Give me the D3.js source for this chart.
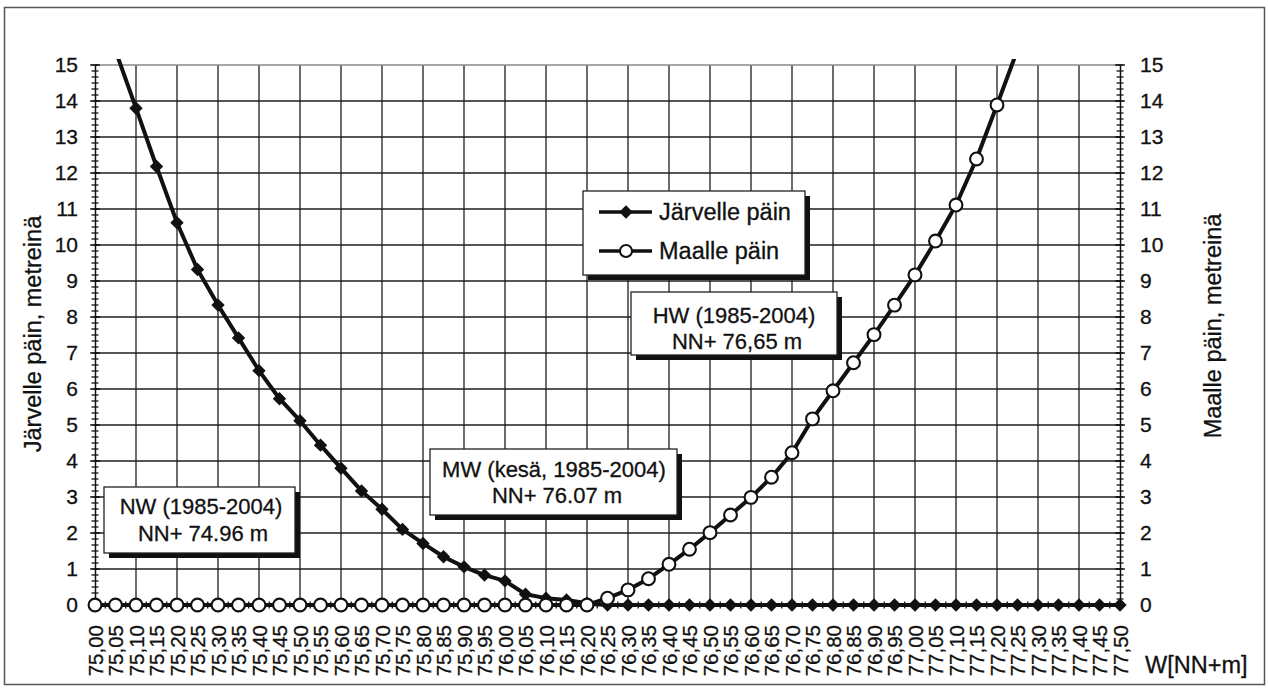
<!DOCTYPE html>
<html>
<head>
<meta charset="utf-8">
<script src="https://cdn.jsdelivr.net/npm/d3@7"></script>
<style>
  body { margin: 0; background: #fff; }
  text { font-family: "Liberation Sans", Arial, sans-serif; fill: #111; stroke: #111; stroke-width: 0.3px; }
</style>
</head>
<body>
<svg id="chart" width="1268" height="688"></svg>
<script>
// Water level (NN+m) categories, every 5 cm
const levels = [
  75.00, 75.05, 75.10, 75.15, 75.20, 75.25, 75.30, 75.35, 75.40, 75.45,
  75.50, 75.55, 75.60, 75.65, 75.70, 75.75, 75.80, 75.85, 75.90, 75.95,
  76.00, 76.05, 76.10, 76.15, 76.20, 76.25, 76.30, 76.35, 76.40, 76.45,
  76.50, 76.55, 76.60, 76.65, 76.70, 76.75, 76.80, 76.85, 76.90, 76.95,
  77.00, 77.05, 77.10, 77.15, 77.20, 77.25, 77.30, 77.35, 77.40, 77.45,
  77.50
];
const levelLabels = [
  "75,00", "75,05", "75,10", "75,15", "75,20", "75,25", "75,30", "75,35", "75,40", "75,45",
  "75,50", "75,55", "75,60", "75,65", "75,70", "75,75", "75,80", "75,85", "75,90", "75,95",
  "76,00", "76,05", "76,10", "76,15", "76,20", "76,25", "76,30", "76,35", "76,40", "76,45",
  "76,50", "76,55", "76,60", "76,65", "76,70", "76,75", "76,80", "76,85", "76,90", "76,95",
  "77,00", "77,05", "77,10", "77,15", "77,20", "77,25", "77,30", "77,35", "77,40", "77,45",
  "77,50"
];

// Shoreline shift towards the lake (m), null where not computed
const jarvelle = [
  null, 15.4, 13.8, 12.18, 10.62, 9.32, 8.33, 7.42, 6.51, 5.73,
  5.12, 4.44, 3.8, 3.17, 2.66, 2.1, 1.71, 1.34, 1.06, 0.83,
  0.67, 0.3, 0.19, 0.14, 0.05, 0, 0, 0, 0, 0,
  0, 0, 0, 0, 0, 0, 0, 0, 0, 0,
  0, 0, 0, 0, 0, 0, 0, 0, 0, 0,
  0
];
// Shoreline shift towards the land (m)
const maalle = [
  0, 0, 0, 0, 0, 0, 0, 0, 0, 0,
  0, 0, 0, 0, 0, 0, 0, 0, 0, 0,
  0, 0, 0, 0, 0, 0.19, 0.42, 0.73, 1.13, 1.55,
  2.01, 2.5, 2.99, 3.55, 4.23, 5.17, 5.95, 6.73, 7.51, 8.33,
  9.17, 10.11, 11.11, 12.39, 13.89, 15.42, null, null, null, null,
  null
];

const yTicks = [0, 1, 2, 3, 4, 5, 6, 7, 8, 9, 10, 11, 12, 13, 14, 15];

const legendItems = ["Järvelle päin", "Maalle päin"];
const notes = [
  { lines: ["NW (1985-2004)", "NN+ 74.96 m"] },
  { lines: ["MW (kesä, 1985-2004)", "NN+ 76.07 m"] },
  { lines: ["HW (1985-2004)", "NN+ 76,65 m"] }
];

const svg = d3.select("#chart");
const plotL = 95, plotR = 1120, plotT = 65, plotB = 605;
const font = "Liberation Sans, Arial, sans-serif";

const x = d3.scaleLinear().domain([75, 77.5]).range([plotL, plotR]);
const y = d3.scaleLinear().domain([0, 15]).range([plotB, plotT]);

// outer frame
svg.append("rect")
  .attr("x", 4.5).attr("y", 7.5).attr("width", 1260).attr("height", 677)
  .attr("fill", "#fff").attr("stroke", "#555").attr("stroke-width", 1.5);

// grid
const grid = svg.append("g");
const vGrid = levels.filter((d, i) => i % 2 === 0 && i > 0 && i < levels.length - 1);
grid.selectAll("line.v").data(vGrid).join("line")
  .attr("x1", d => x(d)).attr("x2", d => x(d))
  .attr("y1", plotT).attr("y2", plotB)
  .attr("stroke", "#1e1e1e").attr("stroke-width", 1.3);
grid.selectAll("line.h").data(yTicks.filter(d => d > 0)).join("line")
  .attr("x1", plotL).attr("x2", plotR)
  .attr("y1", d => y(d)).attr("y2", d => y(d))
  .attr("stroke", d => d === 15 ? "#888" : "#1e1e1e").attr("stroke-width", 1.3);

// axes
const fmtLevel = d => levelLabels[levels.indexOf(d)];
const minorY = d3.range(0, 15.001, 1 / 6);

function crossTicks(g, orient, values, major) {
  const len = major ? 5 : 3.5;
  g.selectAll(null).data(values).join("line")
    .attr(orient === "v" ? "x1" : "y1", -len)
    .attr(orient === "v" ? "x2" : "y2", len)
    .attr(orient === "v" ? "y1" : "x1", d => orient === "v" ? y(d) : x(d))
    .attr(orient === "v" ? "y2" : "x2", d => orient === "v" ? y(d) : x(d))
    .attr("stroke", "#111").attr("stroke-width", 1.3);
}

const yLeft = svg.append("g").attr("transform", `translate(${plotL},0)`)
  .call(d3.axisLeft(y).tickValues(yTicks).tickSize(0).tickPadding(17));
const yRight = svg.append("g").attr("transform", `translate(${plotR},0)`)
  .call(d3.axisRight(y).tickValues(yTicks).tickSize(0).tickPadding(20));
[yLeft, yRight].forEach(g => {
  g.select(".domain").attr("stroke", "#111").attr("stroke-width", 1.5);
  g.selectAll("text").attr("font-size", 21).attr("font-family", font).attr("fill", "#111");
  crossTicks(g, "v", minorY, false);
  crossTicks(g, "v", yTicks, true);
});

const xAxis = svg.append("g").attr("transform", `translate(0,${plotB})`)
  .call(d3.axisBottom(x).tickValues(levels).tickFormat(fmtLevel).tickSize(0));
xAxis.select(".domain").attr("stroke", "#111").attr("stroke-width", 1.5);
xAxis.selectAll(".tick text")
  .attr("font-size", 20.5).attr("font-family", font).attr("fill", "#111")
  .attr("text-anchor", "end")
  .attr("transform", "translate(0,20) rotate(-90)")
  .attr("x", 0).attr("y", 0).attr("dy", "0.35em");
crossTicks(xAxis, "h", levels, false);
crossTicks(xAxis, "h", d3.pairs(levels).map(p => (p[0] + p[1]) / 2), false);

// axis titles
svg.append("text").attr("transform", "translate(33,334) rotate(-90)")
  .attr("text-anchor", "middle").attr("dy", "0.35em").attr("font-size", 23.5)
  .text("Järvelle päin, metreinä");
svg.append("text").attr("transform", "translate(1213,326) rotate(-90)")
  .attr("text-anchor", "middle").attr("dy", "0.35em").attr("font-size", 23.5)
  .text("Maalle päin, metreinä");
svg.append("text").attr("x", 1145).attr("y", 665).attr("dy", "0.35em").attr("font-size", 23.5)
  .text("W[NN+m]");

// series
svg.append("clipPath").attr("id", "plotClip").append("rect")
  .attr("x", plotL - 10).attr("y", plotT - 6).attr("width", plotR - plotL + 20).attr("height", plotB - plotT + 20);
const plot = svg.append("g").attr("clip-path", "url(#plotClip)");

const line = d3.line().defined(d => d[1] !== null).x(d => x(d[0])).y(d => y(d[1]));
const jData = levels.map((l, i) => [l, jarvelle[i]]);
const mData = levels.map((l, i) => [l, maalle[i]]);

const diamond = d3.symbol(d3.symbolSquare, 90);
const lineW = 4;

plot.append("path").datum(jData).attr("d", line)
  .attr("fill", "none").attr("stroke", "#111").attr("stroke-width", lineW).attr("stroke-linejoin", "round");
plot.selectAll("path.dm").data(jData.filter(d => d[1] !== null && d[1] <= 15)).join("path")
  .attr("class", "dm").attr("d", diamond)
  .attr("transform", d => `translate(${x(d[0])},${y(d[1])}) rotate(45)`)
  .attr("fill", "#111");

plot.append("path").datum(mData).attr("d", line)
  .attr("fill", "none").attr("stroke", "#111").attr("stroke-width", lineW).attr("stroke-linejoin", "round");
plot.selectAll("circle.ci").data(mData.filter(d => d[1] !== null && d[1] <= 15)).join("circle")
  .attr("class", "ci").attr("cx", d => x(d[0])).attr("cy", d => y(d[1])).attr("r", 6.4)
  .attr("fill", "#fff").attr("stroke", "#111").attr("stroke-width", 2.1);

// boxes with drop shadow
function shadowBox(x0, y0, w, h) {
  const g = svg.append("g");
  g.append("rect").attr("x", x0 + 5).attr("y", y0 + 5).attr("width", w).attr("height", h).attr("fill", "#111");
  g.append("rect").attr("x", x0).attr("y", y0).attr("width", w).attr("height", h)
    .attr("fill", "#fff").attr("stroke", "#222").attr("stroke-width", 1.3);
  return g;
}

const noteBoxes = [
  { x: 104, y: 487, w: 191, h: 66, cx: [201, 203], cy: [506, 533] },
  { x: 430, y: 449, w: 247, h: 66, cx: [554, 557], cy: [469, 495] },
  { x: 631, y: 292, w: 206, h: 63, cx: [734, 737], cy: [315, 341] }
];
notes.forEach((n, i) => {
  const b = noteBoxes[i];
  const g = shadowBox(b.x, b.y, b.w, b.h);
  n.lines.forEach((t, j) => {
    g.append("text").attr("x", b.cx[j]).attr("y", b.cy[j]).attr("dy", "0.35em")
      .attr("text-anchor", "middle").attr("font-size", 22).text(t);
  });
});

// legend
const lg = shadowBox(583, 191, 222, 84);
legendItems.forEach((name, i) => {
  const ly = 212 + i * 39;
  lg.append("line").attr("x1", 599).attr("x2", 652).attr("y1", ly).attr("y2", ly)
    .attr("stroke", "#111").attr("stroke-width", 3.5);
  if (i === 0) {
    lg.append("path").attr("d", diamond).attr("transform", `translate(626,${ly}) rotate(45)`).attr("fill", "#111");
  } else {
    lg.append("circle").attr("cx", 626).attr("cy", ly).attr("r", 6)
      .attr("fill", "#fff").attr("stroke", "#111").attr("stroke-width", 2);
  }
  lg.append("text").attr("x", 659).attr("y", ly).attr("dy", "0.35em").attr("font-size", 23.5).text(name);
});
</script>
</body>
</html>
